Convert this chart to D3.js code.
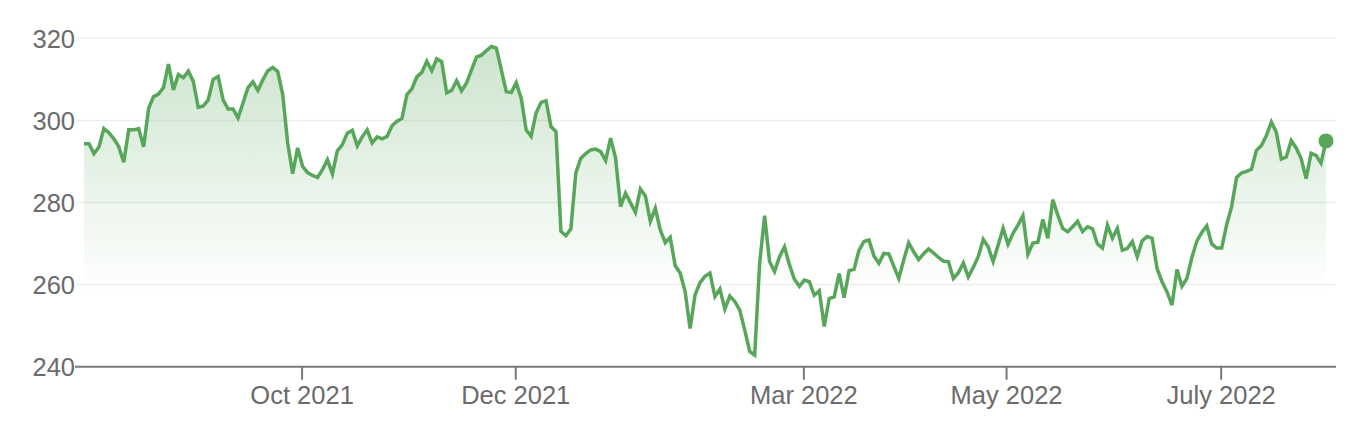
<!DOCTYPE html>
<html>
<head>
<meta charset="utf-8">
<script src="https://cdn.jsdelivr.net/npm/d3@7"></script>
<style>
  html, body { margin: 0; padding: 0; background: #fff; }
  svg { display: block; font-family: "Liberation Sans", Arial, Helvetica, sans-serif; }
</style>
</head>
<body>
<svg id="chart" width="1368" height="434"></svg>
<script>
// Daily closing prices (trading-day index 0..250)
const prices = [
  294.3, 294.3, 291.9, 293.5, 298.0, 297.0, 295.5, 293.6, 289.8, 297.7,
  297.7, 298.0, 293.6, 302.9, 305.8, 306.4, 308.0, 313.7, 307.4, 311.2,
  310.4, 312.0, 309.5, 303.2, 303.5, 305.0, 310.0, 310.7, 305.0, 302.8,
  302.8, 300.6, 304.2, 308.0, 309.4, 307.3, 309.9, 312.1, 312.9, 311.9,
  306.3, 294.5, 287.0, 293.3, 288.8, 287.3, 286.6, 286.1, 288.0, 290.4,
  287.0, 292.6, 294.1, 296.9, 297.6, 293.8, 296.0, 297.7, 294.5, 296.0,
  295.5, 296.1, 298.7, 299.8, 300.5, 306.3, 307.7, 310.6, 311.7, 314.4,
  312.1, 315.0, 314.3, 306.7, 307.3, 309.7, 307.2, 309.1, 312.3, 315.4,
  315.9, 317.0, 318.0, 317.6, 312.3, 307.0, 306.8, 309.2, 305.4, 297.7,
  296.1, 301.8, 304.4, 304.8, 298.5, 297.3, 273.0, 271.9, 273.6, 287.2,
  290.8, 291.9, 292.8, 293.0, 292.4, 290.2, 295.7, 290.8, 279.0, 282.3,
  279.9, 277.6, 283.3, 281.6, 275.4, 278.6, 273.3, 270.2, 271.5, 264.6,
  262.8, 258.3, 249.3, 257.5, 260.5, 262.0, 262.8, 257.1, 258.9, 254.0,
  257.2, 255.9, 253.8, 248.9, 243.7, 242.8, 265.2, 276.8, 265.6, 263.2,
  266.8, 269.2, 264.8, 261.3, 259.6, 261.1, 260.7, 257.4, 258.5, 249.8,
  256.6, 257.0, 262.7, 256.8, 263.4, 263.7, 268.4, 270.5, 270.9, 267.0,
  265.2, 267.6, 267.5, 264.5, 261.5, 266.0, 270.2, 268.0, 266.1, 267.5,
  268.7, 267.7, 266.6, 265.7, 265.6, 261.5, 262.9, 265.3, 261.9, 264.2,
  266.8, 271.0, 269.2, 265.6, 269.6, 273.7, 269.8, 272.5, 274.5, 276.8,
  267.4, 270.1, 270.3, 275.9, 271.3, 280.7, 277.0, 273.7, 272.9, 274.1,
  275.4, 272.9, 274.1, 273.6, 269.9, 268.9, 274.5, 271.3, 273.7, 268.4,
  268.8, 270.5, 266.8, 270.7, 271.7, 271.3, 263.9, 260.7, 258.2, 255.0,
  263.7, 259.6, 261.5, 266.6, 270.6, 272.7, 274.3, 269.9, 268.9, 268.9,
  274.6, 279.0, 286.1, 287.2, 287.6, 288.1, 292.7, 293.9, 296.3, 299.6,
  297.1, 290.6, 291.1, 295.1, 293.3, 290.7, 285.8, 292.0, 291.5, 289.6,
  295.0
];

// X axis ticks (position on the trading-day index) and labels
const xTickIndex = [43.8, 86.8, 144.8, 185.6, 228.8];
const xTickLabels = ["Oct 2021", "Dec 2021", "Mar 2022", "May 2022", "July 2022"];

// Y axis ticks
const yTicks = [240, 260, 280, 300, 320];

const svg = d3.select("#chart");
const green = "#57a65a";
const textColor = "#6b6b6b";

const x = d3.scaleLinear().domain([0, prices.length - 1]).range([84, 1326]);
const y = d3.scaleLinear().domain([240, 320]).range([366.7, 38.3]);

// gradient
const defs = svg.append("defs");
const grad = defs.append("linearGradient")
  .attr("id", "areaGrad")
  .attr("gradientUnits", "userSpaceOnUse")
  .attr("x1", 0).attr("x2", 0)
  .attr("y1", y(318)).attr("y2", y(258));
grad.append("stop").attr("offset", 0).attr("stop-color", green).attr("stop-opacity", 0.3);
grad.append("stop").attr("offset", 1).attr("stop-color", green).attr("stop-opacity", 0);

// y axis labels
const yAxisG = svg.append("g")
  .attr("transform", "translate(77,0)")
  .call(d3.axisLeft(y).tickValues(yTicks).tickSize(0).tickPadding(2).tickFormat(d3.format("d")));
yAxisG.select(".domain").remove();
yAxisG.selectAll("text")
  .attr("fill", textColor)
  .attr("font-size", 25.5)
  .attr("font-family", "'Liberation Sans', Arial, Helvetica, sans-serif")
  .attr("dy", "0.36em");

// gridlines
svg.append("g").selectAll("line")
  .data(yTicks.filter(d => d !== 240))
  .join("line")
  .attr("x1", 77).attr("x2", 1336)
  .attr("y1", d => y(d)).attr("y2", d => y(d))
  .attr("stroke", "#efefef")
  .attr("stroke-width", 1.5);

// area
const area = d3.area()
  .x((d, i) => x(i))
  .y0(y(240))
  .y1(d => y(d));
svg.append("path")
  .datum(prices)
  .attr("d", area)
  .attr("fill", "url(#areaGrad)");

// x axis
const xAxisG = svg.append("g")
  .attr("transform", `translate(0,${y(240)})`)
  .call(d3.axisBottom(x).tickValues(xTickIndex).tickSize(13).tickPadding(6)
    .tickFormat((d, i) => xTickLabels[i]));
xAxisG.select(".domain").remove();
xAxisG.append("line")
  .attr("x1", 75).attr("x2", 1336)
  .attr("y1", 0).attr("y2", 0)
  .attr("stroke", "#777")
  .attr("stroke-width", 2);
xAxisG.selectAll(".tick line").attr("stroke", "#777").attr("stroke-width", 2);
xAxisG.selectAll(".tick text")
  .attr("fill", textColor)
  .attr("font-size", 25.5)
  .attr("font-family", "'Liberation Sans', Arial, Helvetica, sans-serif");

// line
const line = d3.line()
  .x((d, i) => x(i))
  .y(d => y(d));
svg.append("path")
  .datum(prices)
  .attr("d", line)
  .attr("fill", "none")
  .attr("stroke", green)
  .attr("stroke-width", 3.5)
  .attr("stroke-linejoin", "miter")
  .attr("stroke-miterlimit", 4);

// last point marker
const lastIdx = prices.length - 1;
svg.append("circle")
  .attr("cx", x(lastIdx))
  .attr("cy", y(prices[lastIdx]))
  .attr("r", 7.5)
  .attr("fill", green);
</script>
</body>
</html>
